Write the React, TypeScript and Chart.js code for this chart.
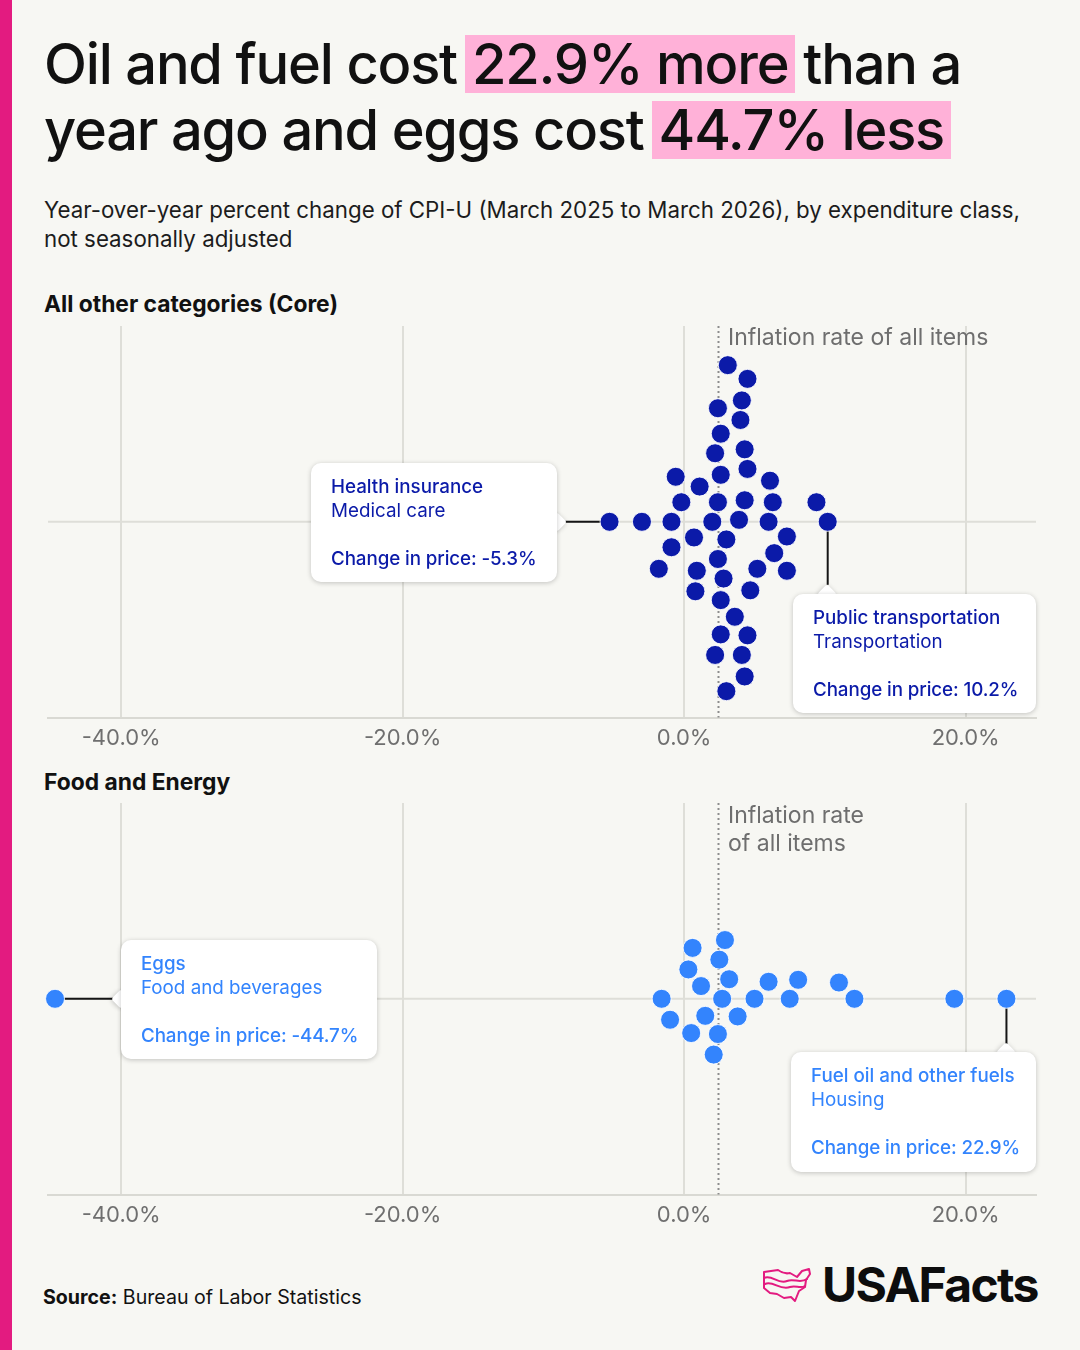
import React, { useEffect, useRef } from "react";
import { Chart, registerables } from "chart.js";

Chart.register(...registerables);

const FONT = "Inter, 'Noto Sans', 'DejaVu Sans', sans-serif";
const BG = "#f7f7f3";
const CORE_COLOR = "#0b1aa8";
const FE_COLOR = "#3384fd";
const PINK = "#e31b80";

// ---- data ----
const tickValues = [-40, -20, 0, 20];
const inflationRate = 2.4;

// All other categories (Core): year-over-year % change, and swarm offset (dot rows)
const coreValues = [
  3.1, 4.5, 4.1, 2.4, 4.0, 2.6, 2.2, 4.3, 2.6, 4.5, -0.6, 1.1, 6.1, -0.2, 2.4, 4.3,
  6.3, 9.4, -5.3, -3.0, -0.9, 2.0, 3.9, 6.0, 10.2, 0.7, 3.0, 7.3, -0.9, 2.4, 6.4,
  -1.8, 0.9, 2.8, 5.2, 7.3, 0.8, 2.6, 4.7, 3.6, 2.6, 4.5, 2.2, 4.1, 4.3, 3.0,
];
const coreSwarm = [
  8.0, 7.3, 6.2, 5.8, 5.2, 4.5, 3.5, 3.7, 2.4, 2.7, 2.3, 1.8, 2.1, 1.0, 1.0, 1.1,
  1.0, 1.0, 0, 0, 0, 0, 0.1, 0, 0, -0.8, -0.9, -0.75, -1.3, -1.9, -1.6,
  -2.4, -2.5, -2.9, -2.4, -2.5, -3.55, -4.0, -3.5, -4.85, -5.75, -5.8, -6.8, -6.8, -7.9, -8.65,
];

// Food and Energy
const feValues = [
  2.9, 0.6, 2.5, 0.3, 3.2, 1.2, 6.0, 8.1, 11.0, -1.6, 2.7, 5.0, 7.5, 12.1, 19.2, 22.9,
  -1.0, 1.5, 3.8, 0.5, 2.4, 2.1, -44.7,
];
const feSwarm = [
  3.0, 2.6, 2.0, 1.5, 1.0, 0.65, 0.87, 0.97, 0.83, 0, 0, 0, 0, 0, 0, 0,
  -1.07, -0.87, -0.9, -1.75, -1.8, -2.85, 0,
];

type Connector = { value: number; swarm: number; dir: "left" | "right" | "down"; length: number };

const coreConnectors: Connector[] = [
  { value: -5.3, swarm: 0, dir: "left", length: 44 },
  { value: 10.2, swarm: 0, dir: "down", length: 63 },
];
const feConnectors: Connector[] = [
  { value: -44.7, swarm: 0, dir: "right", length: 59 },
  { value: 22.9, swarm: 0, dir: "down", length: 46 },
];

const decorPlugin = {
  id: "decor",
  beforeDatasetsDraw(chart: any, _args: any, opts: any) {
    const { ctx, chartArea: a, scales } = chart;
    const x = scales.x;
    const y = scales.y;
    ctx.save();
    const y0 = y.getPixelForValue(0);
    ctx.strokeStyle = "#deded8";
    ctx.lineWidth = 2;
    ctx.beginPath();
    ctx.moveTo(a.left, y0);
    ctx.lineTo(a.right, y0);
    ctx.stroke();

    const xi = Math.round(x.getPixelForValue(opts.inflation)) + 0.5;
    ctx.strokeStyle = "#8d8d8d";
    ctx.lineWidth = 2;
    ctx.setLineDash([2, 3]);
    ctx.beginPath();
    ctx.moveTo(xi, a.top);
    ctx.lineTo(xi, a.bottom);
    ctx.stroke();
    ctx.setLineDash([]);

    ctx.strokeStyle = "#151515";
    ctx.lineWidth = 2;
    for (const c of opts.connectors as Connector[]) {
      const px = x.getPixelForValue(c.value);
      const py = y.getPixelForValue(c.swarm);
      ctx.beginPath();
      ctx.moveTo(px, py);
      if (c.dir === "left") ctx.lineTo(px - c.length, py);
      else if (c.dir === "right") ctx.lineTo(px + c.length, py);
      else ctx.lineTo(px, py + c.length);
      ctx.stroke();
    }
    ctx.restore();
  },
};

function makeConfig(values: number[], swarm: number[], color: string, connectors: Connector[]): any {
  return {
    type: "scatter",
    data: {
      datasets: [
        {
          data: values.map((v, i) => ({ x: v, y: swarm[i] })),
          backgroundColor: color,
          borderColor: "rgba(255,255,255,0.85)",
          borderWidth: 1,
          pointRadius: 9.5,
          pointHoverRadius: 9.5,
          clip: false,
        },
      ],
    },
    options: {
      responsive: false,
      animation: false,
      events: [],
      layout: { autoPadding: false, padding: { left: 48, right: 44, top: 6, bottom: 7 } },
      plugins: {
        legend: { display: false },
        tooltip: { enabled: false },
        decor: { inflation: inflationRate, connectors },
      },
      scales: {
        x: {
          type: "linear",
          min: -45.2,
          max: 25,
          afterBuildTicks: (s: any) => {
            s.ticks = tickValues.map((v) => ({ value: v }));
          },
          grid: { color: "#deded8", lineWidth: 2, drawTicks: false },
          border: { display: true, color: "#d9d9d3", width: 2 },
          ticks: {
            padding: 8,
            color: "#6f6f6f",
            autoSkip: false,
            maxRotation: 0,
            font: { family: FONT, size: 22 },
            callback: (v: any) => Number(v).toFixed(1) + "%",
          },
        },
        y: { display: false, min: -10, max: 10 },
      },
    },
    plugins: [decorPlugin],
  };
}

type NotchSide = "left" | "right" | "top";

function CalloutBox(props: {
  left: number;
  top: number;
  width: number;
  height: number;
  color: string;
  title: string;
  category: string;
  change: string;
  notch: { side: NotchSide; pos: number };
}) {
  const { left, top, width, height, color, title, category, change, notch } = props;
  const n = 14;
  let nl = 0;
  let nt = 0;
  if (notch.side === "right") {
    nl = left + width - n / 2;
    nt = notch.pos - n / 2;
  } else if (notch.side === "left") {
    nl = left - n / 2;
    nt = notch.pos - n / 2;
  } else {
    nl = notch.pos - n / 2;
    nt = top - n / 2;
  }
  const shadow = "0 1px 5px rgba(0,0,0,0.22)";
  return (
    <>
      <div
        style={{
          position: "absolute",
          left: nl,
          top: nt,
          width: n,
          height: n,
          background: "#fff",
          transform: "rotate(45deg)",
          borderRadius: 3,
          boxShadow: shadow,
          zIndex: 1,
        }}
      />
      <div
        style={{
          position: "absolute",
          left,
          top,
          width,
          height,
          boxSizing: "border-box",
          background: "#fff",
          borderRadius: 10,
          boxShadow: shadow,
          padding: "12px 0 0 20px",
          color,
          fontSize: 18.8,
          lineHeight: "24px",
          zIndex: 2,
          whiteSpace: "nowrap",
        }}
      >
        <div style={{ fontWeight: 500 }}>{title}</div>
        <div style={{ fontWeight: 400 }}>{category}</div>
        <div style={{ height: 24 }} />
        <div style={{ fontWeight: 500, letterSpacing: -0.1 }}>{change}</div>
      </div>
    </>
  );
}

const hl: React.CSSProperties = {
  background: "#ffb1d8",
  padding: "0 7px",
  margin: "0 8px",
  display: "inline-block",
  lineHeight: "58px",
};

export default function App() {
  const topRef = useRef<HTMLCanvasElement>(null);
  const botRef = useRef<HTMLCanvasElement>(null);

  useEffect(() => {
    const c1 = new Chart(topRef.current as HTMLCanvasElement, makeConfig(coreValues, coreSwarm, CORE_COLOR, coreConnectors));
    const c2 = new Chart(botRef.current as HTMLCanvasElement, makeConfig(feValues, feSwarm, FE_COLOR, feConnectors));
    return () => {
      c1.destroy();
      c2.destroy();
    };
  }, []);

  return (
    <div
      style={{
        position: "absolute",
        left: 0,
        top: 0,
        width: 1080,
        height: 1350,
        background: BG,
        overflow: "hidden",
        fontFamily: FONT,
        color: "#111",
      }}
    >
      <div style={{ position: "absolute", left: 0, top: 0, width: 12, height: 1350, background: PINK }} />

      <div
        style={{
          position: "absolute",
          left: 44,
          top: 31,
          fontSize: 56,
          lineHeight: "66px",
          letterSpacing: -1.2,
          whiteSpace: "nowrap",
          fontWeight: 450,
        }}
      >
        <div>
          Oil and fuel cost<span style={hl}>22.9% more</span>than a
        </div>
        <div>
          year ago and eggs cost<span style={hl}>44.7% less</span>
        </div>
      </div>

      <div
        style={{
          position: "absolute",
          left: 44,
          top: 195,
          fontSize: 22.3,
          lineHeight: "29px",
          color: "#1c1c1c",
          width: 1030,
          whiteSpace: "nowrap",
        }}
      >
        Year-over-year percent change of CPI-U (March 2025 to March 2026), by expenditure class,
        <br />
        not seasonally adjusted
      </div>

      <div style={{ position: "absolute", left: 44, top: 290, fontSize: 22.8, lineHeight: "28px", fontWeight: 700 }}>
        All other categories (Core)
      </div>
      <div style={{ position: "absolute", left: 44, top: 768, fontSize: 22.8, lineHeight: "28px", fontWeight: 700 }}>
        Food and Energy
      </div>

      <canvas ref={topRef} width={1080} height={447} style={{ position: "absolute", left: 0, top: 320, width: 1080, height: 447 }} />
      <canvas ref={botRef} width={1080} height={447} style={{ position: "absolute", left: 0, top: 797, width: 1080, height: 447 }} />

      <div
        style={{
          position: "absolute",
          left: 728,
          top: 323,
          fontSize: 23,
          lineHeight: "28px",
          color: "#6e6e6e",
          whiteSpace: "nowrap",
        }}
      >
        Inflation rate of all items
      </div>
      <div
        style={{
          position: "absolute",
          left: 728,
          top: 801,
          fontSize: 23,
          lineHeight: "28px",
          color: "#6e6e6e",
          whiteSpace: "nowrap",
        }}
      >
        Inflation rate
        <br />
        of all items
      </div>

      <CalloutBox
        left={311}
        top={463}
        width={246}
        height={119}
        color={CORE_COLOR}
        title="Health insurance"
        category="Medical care"
        change="Change in price: -5.3%"
        notch={{ side: "right", pos: 522 }}
      />
      <CalloutBox
        left={793}
        top={594}
        width={243}
        height={119}
        color={CORE_COLOR}
        title="Public transportation"
        category="Transportation"
        change="Change in price: 10.2%"
        notch={{ side: "top", pos: 827 }}
      />
      <CalloutBox
        left={121}
        top={940}
        width={256}
        height={119}
        color={FE_COLOR}
        title="Eggs"
        category="Food and beverages"
        change="Change in price: -44.7%"
        notch={{ side: "left", pos: 999 }}
      />
      <CalloutBox
        left={791}
        top={1052}
        width={245}
        height={120}
        color={FE_COLOR}
        title="Fuel oil and other fuels"
        category="Housing"
        change="Change in price: 22.9%"
        notch={{ side: "top", pos: 1006 }}
      />

      <div style={{ position: "absolute", left: 43, top: 1284, fontSize: 19.6, lineHeight: "26px", color: "#111" }}>
        <span style={{ fontWeight: 700 }}>Source:</span> Bureau of Labor Statistics
      </div>

      <svg
        style={{ position: "absolute", left: 761, top: 1266 }}
        width={52}
        height={40}
        viewBox="0 0 52 40"
        fill="none"
        stroke={PINK}
        strokeWidth={2}
        strokeLinejoin="round"
        strokeLinecap="round"
      >
        <path d="M3 6 L17 4 C21 7 25 8 29 7 L36 11 L41 5 L48 3 L49 8 L45 14 L44 21 L38 25 L34 35 L30 31 L23 32 L16 28 L9 27 L3 22 Z" />
        <path d="M3 12 C11 8 17 19 26 15 C33 12 39 18 46 13" />
        <path d="M4 18 C12 14 19 25 29 21 C35 19 39 23 44 20" />
      </svg>
      <div
        style={{
          position: "absolute",
          left: 822,
          top: 1252,
          fontSize: 48,
          lineHeight: "66px",
          fontWeight: 700,
          letterSpacing: -1.7,
          color: "#0d0d0d",
          whiteSpace: "nowrap",
        }}
      >
        USAFacts
      </div>
    </div>
  );
}
